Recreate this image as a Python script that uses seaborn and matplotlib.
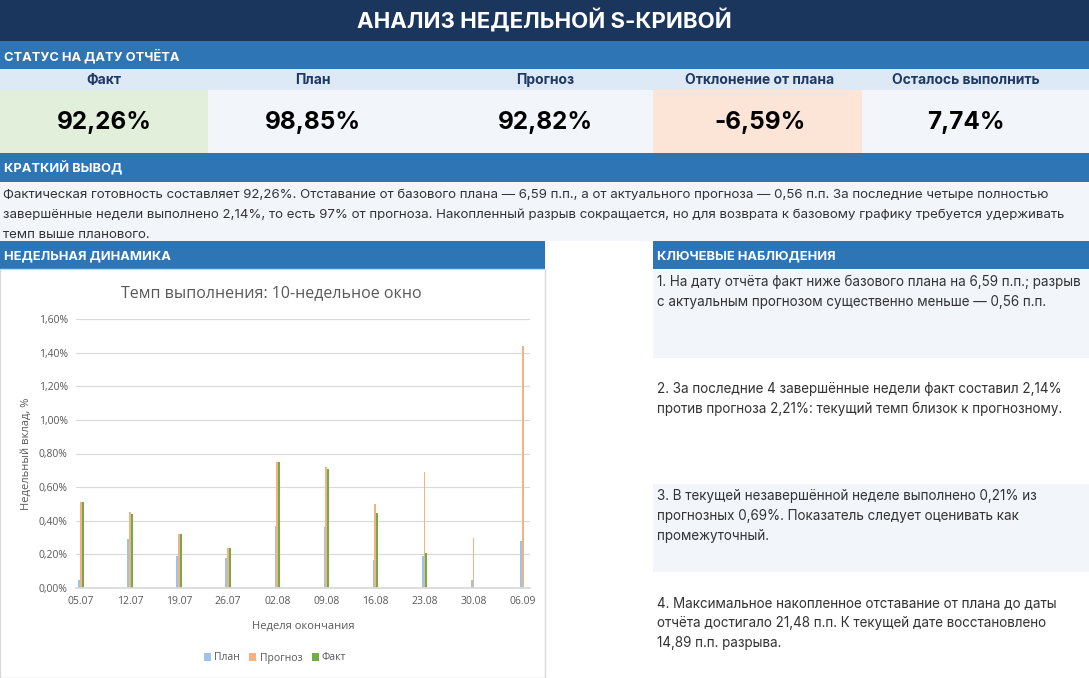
import pandas as pd
import matplotlib.pyplot as plt
import seaborn as sns
from matplotlib.patches import Rectangle
from matplotlib.ticker import FuncFormatter

# Chart data: weekly contribution, %
weeks = ['05.07', '12.07', '19.07', '26.07', '02.08', '09.08', '16.08', '23.08', '30.08', '06.09']
plan = [0.05, 0.29, 0.19, 0.18, 0.37, 0.36, 0.165, 0.19, 0.045, 0.28]
forecast = [0.51, 0.45, 0.32, 0.24, 0.75, 0.72, 0.50, 0.69, 0.30, 1.44]
fact = [0.51, 0.44, 0.32, 0.24, 0.75, 0.705, 0.445, 0.21, 0.0, 0.0]

series_names = ['План', 'Прогноз', 'Факт']
series_colors = ['#9DC3E6', '#F4B183', '#70AD47']

# KPI block
kpi_labels = ['Факт', 'План', 'Прогноз', 'Отклонение от плана', 'Осталось выполнить']
kpi_values = ['92,26%', '98,85%', '92,82%', '-6,59%', '7,74%']

summary_lines = [
    'Фактическая готовность составляет 92,26%. Отставание от базового плана — 6,59 п.п., а от актуального прогноза — 0,56 п.п. За последние четыре полностью',
    'завершённые недели выполнено 2,14%, то есть 97% от прогноза. Накопленный разрыв сокращается, но для возврата к базовому графику требуется удерживать',
    'темп выше планового.',
]

observations = [
    ['1. На дату отчёта факт ниже базового плана на 6,59 п.п.; разрыв',
     'с актуальным прогнозом существенно меньше — 0,56 п.п.'],
    ['2. За последние 4 завершённые недели факт составил 2,14%',
     'против прогноза 2,21%: текущий темп близок к прогнозному.'],
    ['3. В текущей незавершённой неделе выполнено 0,21% из',
     'прогнозных 0,69%. Показатель следует оценивать как',
     'промежуточный.'],
    ['4. Максимальное накопленное отставание от плана до даты',
     'отчёта достигало 21,48 п.п. К текущей дате восстановлено',
     '14,89 п.п. разрыва.'],
]

sns.set_theme(style='white')
plt.rcParams['font.family'] = ['Inter', 'DejaVu Sans']

W, H = 1089, 678
fig = plt.figure(figsize=(W / 100, H / 100), dpi=100)

# background canvas in pixel coordinates
bg = fig.add_axes([0, 0, 1, 1])
bg.set_xlim(0, W)
bg.set_ylim(H, 0)
bg.axis('off')

NAVY = '#1B365D'
BLUE = '#2E75B6'
PALE = '#F2F6FB'
TXT = '#333333'
CHART_FONT = ['Open Sans', 'DejaVu Sans']


def box(x0, y0, x1, y1, color):
    bg.add_patch(Rectangle((x0, y0), x1 - x0, y1 - y0, facecolor=color, edgecolor='none', linewidth=0))


# title
box(0, 0, W, 41, NAVY)
bg.text(W / 2, 20, 'АНАЛИЗ НЕДЕЛЬНОЙ S-КРИВОЙ', color='white', fontsize=16, fontweight='bold',
        ha='center', va='center')

# status section
box(0, 41, W, 69, BLUE)
bg.text(4, 56, 'СТАТУС НА ДАТУ ОТЧЁТА', color='white', fontsize=9.3, fontweight='bold', va='center')
box(0, 69, W, 90, '#DDEAF6')
box(0, 90, W, 153, PALE)
box(0, 90, 208, 153, '#E2EFDA')
box(653, 90, 862, 153, '#FCE4D6')
kpi_x = [104, 313, 545, 760, 966]
for x, lab, val in zip(kpi_x, kpi_labels, kpi_values):
    bg.text(x, 80, lab, color='#1F3864', fontsize=10, fontweight='bold', ha='center', va='center')
    bg.text(x, 123, val, color='black', fontsize=17.5, fontweight='bold', ha='center', va='center')

# summary
box(0, 153, W, 182, BLUE)
bg.text(4, 168, 'КРАТКИЙ ВЫВОД', color='white', fontsize=9.3, fontweight='bold', va='center')
box(0, 182, W, 241, PALE)
for i, line in enumerate(summary_lines):
    bg.text(3, 195 + i * 20, line, color=TXT, fontsize=9.55, va='center')

# lower headers
box(0, 241, 545, 269, BLUE)
bg.text(4, 256, 'НЕДЕЛЬНАЯ ДИНАМИКА', color='white', fontsize=9.3, fontweight='bold', va='center')
box(653, 241, W, 269, BLUE)
bg.text(657, 256, 'КЛЮЧЕВЫЕ НАБЛЮДЕНИЯ', color='white', fontsize=9.3, fontweight='bold', va='center')

# chart frame
bg.add_patch(Rectangle((0, 269), 545, H - 269, facecolor='white', edgecolor='#D9D9D9', linewidth=1))

# observations
for i, lines in enumerate(observations):
    top = 270 + i * 107
    if i % 2 == 0:
        box(653, top, W, top + 88, PALE)
    for j, line in enumerate(lines):
        bg.text(657, top + 12 + j * 20, line, color=TXT, fontsize=9.7, va='center')

# bar chart
df = pd.DataFrame({
    'week': weeks * 3,
    'series': [s for s in series_names for _ in weeks],
    'value': plan + forecast + fact,
})

ax = fig.add_axes([76 / W, 1 - 588 / H, (530 - 76) / W, (588 - 319) / H])
sns.barplot(data=df, x='week', y='value', hue='series', hue_order=series_names,
            palette=series_colors, width=0.11, saturation=1, linewidth=0, edgecolor='none',
            ax=ax, legend=True)
ax.set_xlim(-0.1, 9.15)
ax.set_ylim(0, 1.6)
ax.set_yticks([i * 0.2 for i in range(9)])
ax.yaxis.set_major_formatter(FuncFormatter(lambda v, p: f'{v:.2f}%'.replace('.', ',')))
ax.grid(axis='y', color='#D9D9D9', linewidth=0.8)
ax.set_axisbelow(True)
for s in ['top', 'right', 'left']:
    ax.spines[s].set_visible(False)
ax.spines['bottom'].set_color('#D9D9D9')
ax.tick_params(axis='both', colors='#595959', labelsize=7.5, length=0, pad=6)
for lbl in ax.get_xticklabels() + ax.get_yticklabels():
    lbl.set_family(CHART_FONT)
ax.set_xlabel('Неделя окончания', color='#595959', fontsize=8, labelpad=10, family=CHART_FONT)
ax.set_ylabel('Недельный вклад, %', color='#595959', fontsize=8, labelpad=5, family=CHART_FONT)

handles, labels = ax.get_legend_handles_labels()
ax.get_legend().remove()
fig.legend(handles, labels, loc='center', bbox_to_anchor=(275 / W, 1 - 658 / H), ncol=3, frameon=False,
           handlelength=0.7, handleheight=0.7, handletextpad=0.3, columnspacing=0.9,
           labelcolor='#595959', prop={'family': CHART_FONT, 'size': 7.5})

bg.text(271, 293, 'Темп выполнения: 10-недельное окно', color='#595959', fontsize=11.5, ha='center',
        va='center', family=CHART_FONT)

fig.savefig('out.png', dpi=100)
